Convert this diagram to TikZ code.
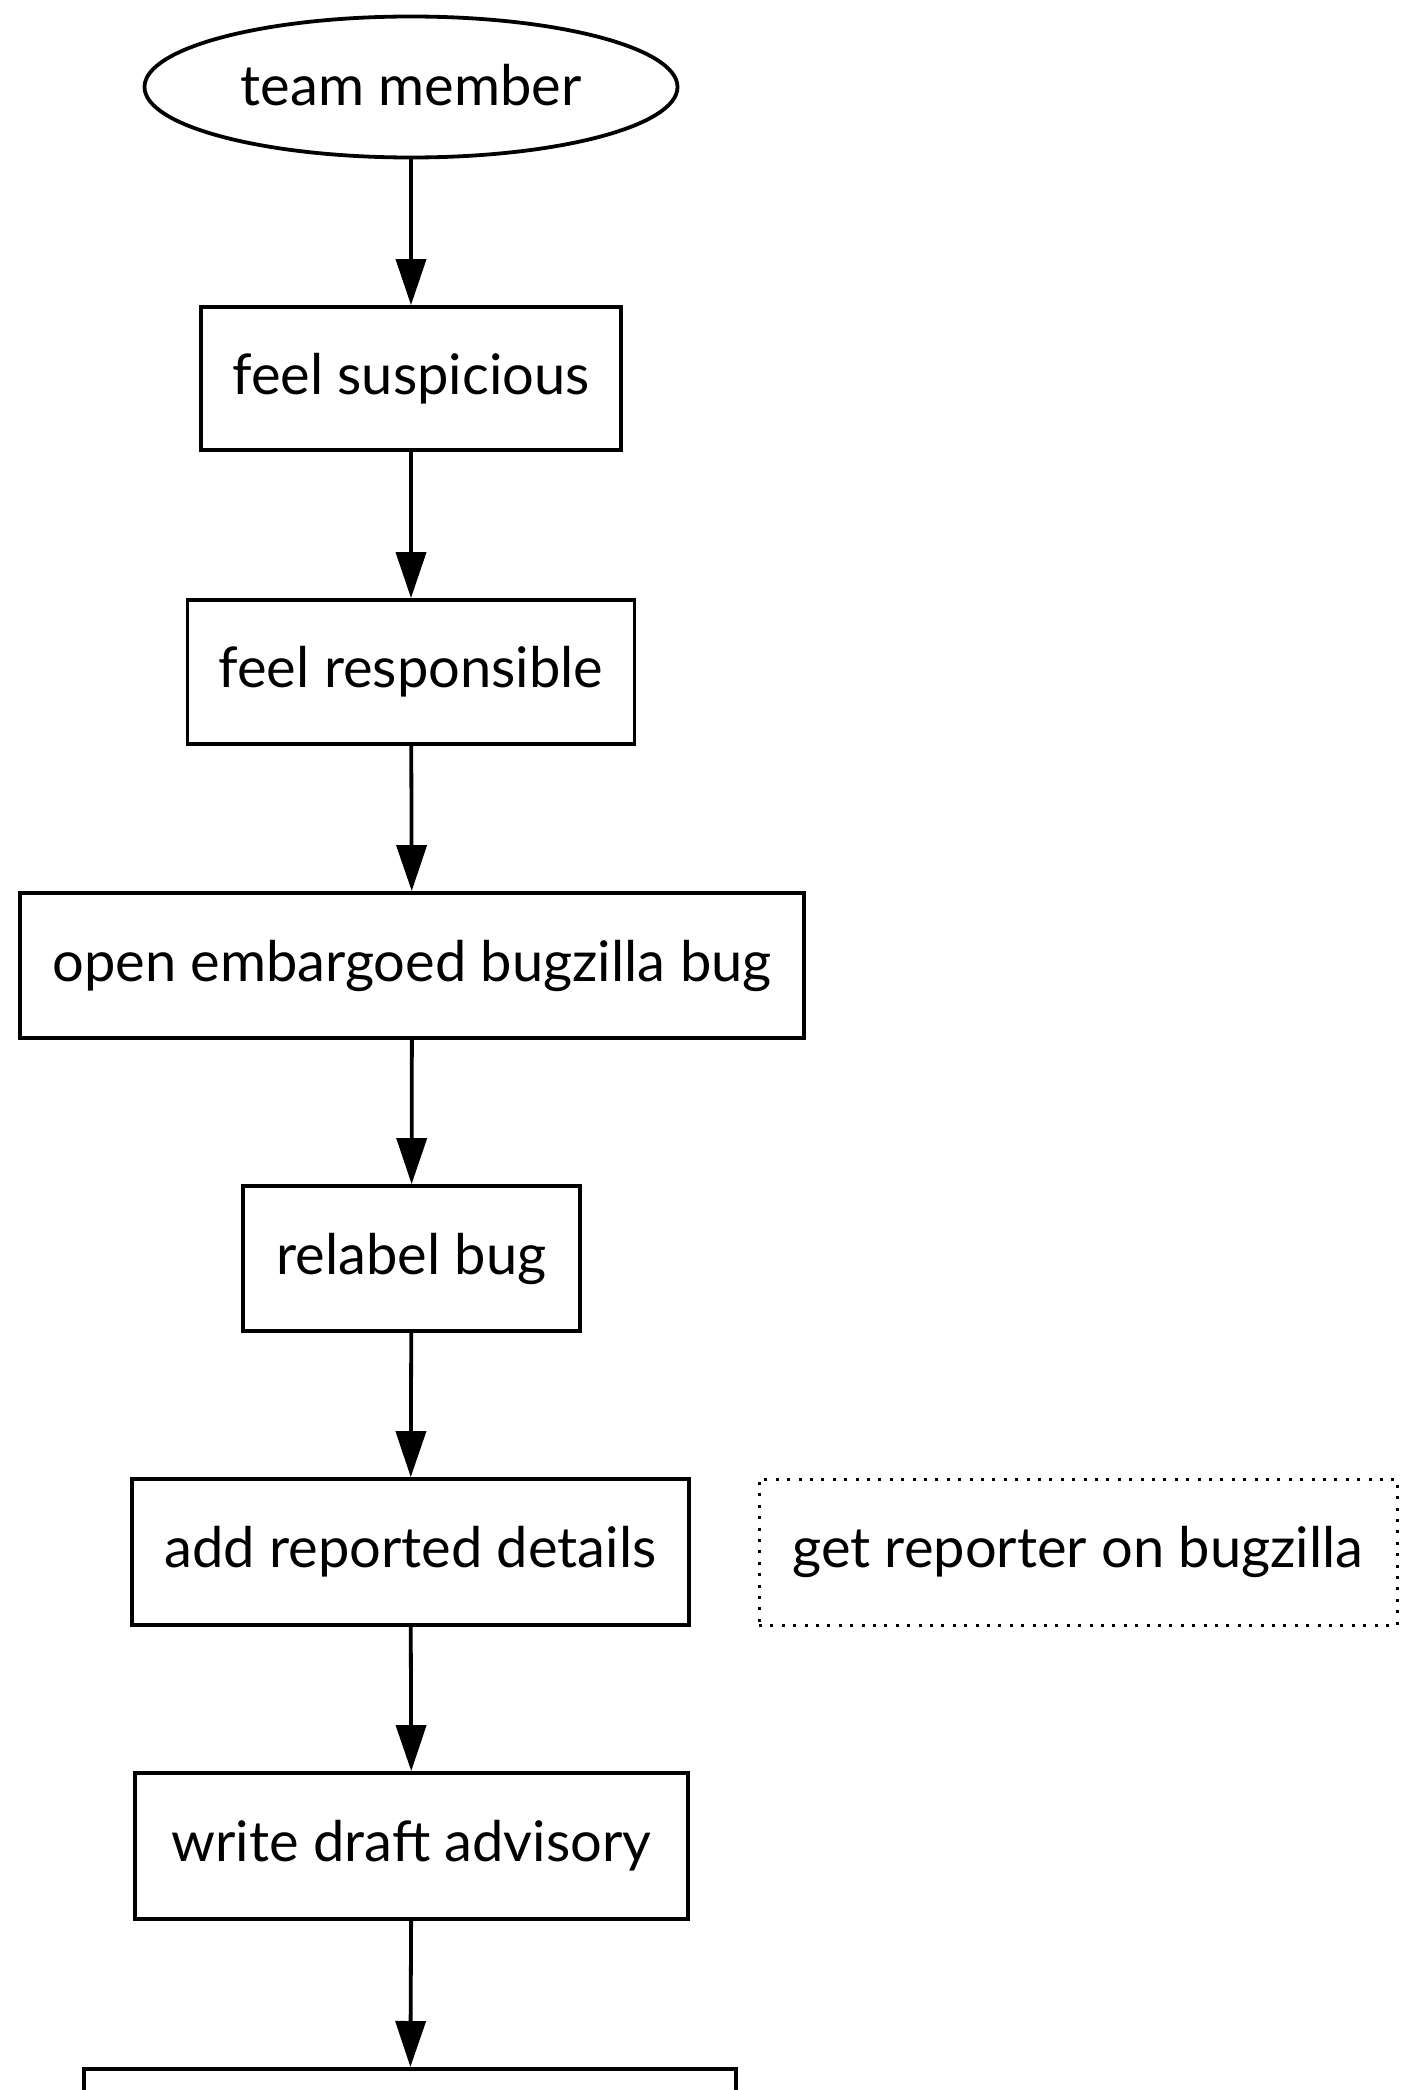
\documentclass[tikz,border=0pt]{standalone}
\usepackage{fontspec}
\setmainfont{Lato}
\usetikzlibrary{shapes.geometric,arrows.meta}
\begin{document}
\begin{tikzpicture}[x=1pt,y=-1pt,
  every node/.style={font=\fontsize{56}{66}\selectfont, inner sep=0pt},
  stepbox/.style={draw, line width=3.8pt, rectangle},
  startnode/.style={draw, line width=3.8pt, ellipse},
  sidebox/.style={draw, line width=3pt, dash pattern=on 3pt off 8.4pt, rectangle},
  arr/.style={line width=3.8pt, -{Triangle[width=30pt,length=46pt]}}]
\useasboundingbox (0,0) rectangle (1402,2090);
\clip (0,0) rectangle (1402,2090);
% main flow of steps
\node[startnode, minimum width=533pt, minimum height=141pt] (tm) at (411,87) {\raisebox{5pt}{team member}};
\node[stepbox, minimum width=420pt, minimum height=143pt] (s1) at (411,378.5) {feel suspicious};
\node[stepbox, minimum width=447pt, minimum height=144pt] (s2) at (411,672) {feel responsible};
\node[stepbox, minimum width=784pt, minimum height=145pt] (s3) at (412,965.5) {open embargoed bugzilla bug};
\node[stepbox, minimum width=337pt, minimum height=145pt] (s4) at (411.5,1258.5) {relabel bug};
\node[stepbox, minimum width=557pt, minimum height=146pt] (s5) at (410.5,1552) {add reported details};
% optional side step
\node[sidebox, minimum width=638pt, minimum height=146pt] (side) at (1078,1552) {get reporter on bugzilla};
\node[stepbox, minimum width=553pt, minimum height=146pt] (s6) at (411.5,1846) {write draft advisory};
\node[stepbox, minimum width=652pt, minimum height=146pt, anchor=north] (s7) at (410,2067) {};
% connectors
\draw[arr] (tm) -- (s1);
\draw[arr] (s1) -- (s2);
\draw[arr] (s2) -- (s3);
\draw[arr] (s3) -- (s4);
\draw[arr] (s4) -- (s5);
\draw[arr] (s5) -- (s6);
\draw[arr] (s6) -- (s7);
\end{tikzpicture}
\end{document}
